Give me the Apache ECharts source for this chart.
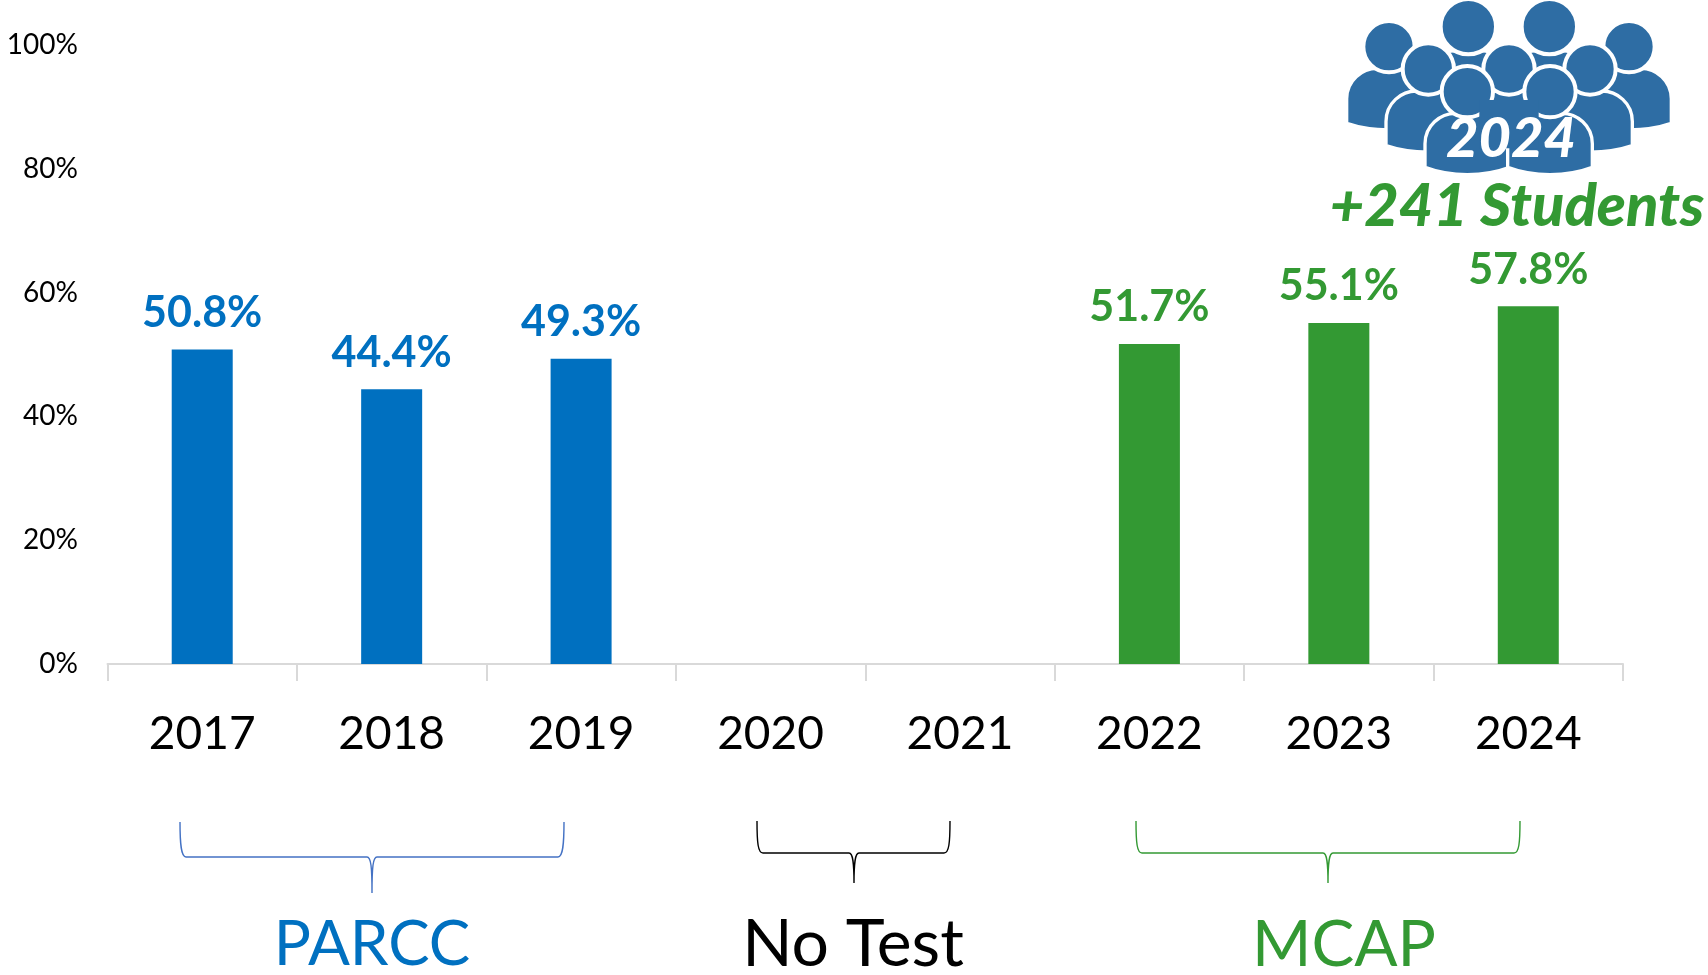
<!DOCTYPE html>
<html>
<head>
<meta charset="utf-8">
<style>html,body{margin:0;padding:0;background:#fff}#c{width:1708px;height:975px}</style>
<script src="https://cdn.jsdelivr.net/npm/echarts@6/dist/echarts.min.js"></script>
</head>
<body>
<div id="c"></div>
<script>
const categories = ['2017','2018','2019','2020','2021','2022','2023','2024'];
const parccValues = [50.8,44.4,49.3,null,null,null,null,null];
const mcapValues = [null,null,null,null,null,51.7,55.1,57.8];
const yTicks = [0,20,40,60,80,100];
const groupLabels = ['PARCC','No Test','MCAP'];
const iconYear = '2024';
const studentNote = '+241 Students';

const BLUE='#0070C0', GREEN='#339933', ICON='#2E6DA4', FONT='Lato, "Open Sans", sans-serif';
const chart = echarts.init(document.getElementById('c'),null,{renderer:'canvas'});

let shapeCount=0;
function pathEl(d,style){
  const name='customPath'+(shapeCount++);
  echarts.graphic.registerShape(name,echarts.graphic.extendPath(d,{}));
  return {type:name,style:style};
}
function bodyPath(cx,top,h,sideBottom,centerBottom){
  const l=cx-h,r=cx+h,rad=h*0.72;
  return `M${l} ${sideBottom}L${l} ${top+rad}C${l} ${top+rad*0.4} ${l+rad*0.5} ${top} ${l+rad} ${top}L${r-rad} ${top}C${r-rad*0.5} ${top} ${r} ${top+rad*0.4} ${r} ${top+rad}L${r} ${sideBottom}C${cx+h*0.4} ${centerBottom+6} ${cx-h*0.4} ${centerBottom+6} ${l} ${sideBottom}Z`;
}
function person(cx,headY,headR,top,sideBottom,centerBottom,half){
  return [
    pathEl(bodyPath(cx,top-5,half+5,sideBottom+5,centerBottom+5),{fill:ICON,stroke:'#fff',lineWidth:10}),
    {type:'circle',shape:{cx:cx,cy:headY,r:headR+6},style:{fill:ICON,stroke:'#fff',lineWidth:12}}
  ];
}
const people=[].concat(
  person(445,80,77,157,320,340,122),
  person(688,80,77,157,320,340,122),
  person(207,140,71,210,365,385,122),
  person(927,140,71,210,365,385,122),
  person(325,207,71,278,432,452,122),
  person(810,207,71,278,432,452,122),
  person(567,207,71,278,432,452,122),
  person(442,275,71,345,497,520,122),
  person(690,275,71,345,497,520,122),
  [{type:'rect',shape:{x:478,y:300,width:178,height:145},style:{fill:ICON}}]
);
function brace(x0,x1,xm,yTop,yH,yTip,color){
  const d=`M${x0} ${yTop}C${x0} ${yTop+22} ${x0+1} ${yH} ${x0+6} ${yH}L${xm-5} ${yH}C${xm-1} ${yH} ${xm} ${yH+10} ${xm} ${yTip}C${xm} ${yH+10} ${xm+1} ${yH} ${xm+5} ${yH}L${x1-6} ${yH}C${x1-1} ${yH} ${x1} ${yTop+22} ${x1} ${yTop}`;
  return pathEl(d,{fill:null,stroke:color,lineWidth:1.4});
}
function groupText(t,x,y,color,size){
  return {type:'text',x:x,y:y,style:{text:t,fill:color,font:'400 '+size+'px '+FONT,textAlign:'center',textVerticalAlign:'middle'}};
}
const barLabel=color=>({show:true,position:'top',distance:15,color:color,fontFamily:FONT,fontWeight:'bold',fontSize:43,formatter:p=>p.value.toFixed(1)+'%'});

chart.setOption({
  animation:false,
  backgroundColor:'#fff',
  grid:{left:107.5,right:85,top:45,bottom:311,containLabel:false},
  xAxis:{type:'category',data:categories,
    axisLine:{lineStyle:{color:'#d9d9d9',width:2}},
    axisTick:{show:true,length:17,lineStyle:{color:'#d9d9d9',width:2}},
    axisLabel:{color:'#000',fontFamily:FONT,fontSize:46,margin:47}},
  yAxis:{type:'value',min:yTicks[0],max:yTicks[yTicks.length-1],interval:20,
    axisLine:{show:false},axisTick:{show:false},splitLine:{show:false},
    axisLabel:{color:'#000',fontFamily:FONT,fontSize:28,margin:29.5,padding:[4,0,0,0],formatter:'{value}%'}},
  series:[
    {name:'PARCC',type:'bar',data:parccValues,barWidth:61,barGap:'-100%',itemStyle:{color:BLUE},label:barLabel(BLUE)},
    {name:'MCAP',type:'bar',data:mcapValues,barWidth:61,barGap:'-100%',itemStyle:{color:GREEN},label:barLabel(GREEN)}
  ],
  graphic:[
    {type:'group',x:1320,y:0,scaleX:1/3,scaleY:1/3,children:people},
    {type:'text',x:1511,y:139,style:{text:iconYear,fill:'#fff',font:'italic 900 56px '+FONT,textAlign:'center',textVerticalAlign:'middle'}},
    {type:'text',x:1517,y:207,style:{text:studentNote,fill:GREEN,font:'italic 900 59.5px '+FONT,textAlign:'center',textVerticalAlign:'middle'}},
    brace(180,564,372,822,857,893,'#4472C4'),
    brace(757,950,854,821,853,883,'#000'),
    brace(1136,1520,1328,821,853,883,GREEN),
    groupText(groupLabels[0],372,945,BLUE,62),
    groupText(groupLabels[1],853,945,'#000',66),
    groupText(groupLabels[2],1344,945,GREEN,64)
  ]
});
</script>
</body>
</html>
